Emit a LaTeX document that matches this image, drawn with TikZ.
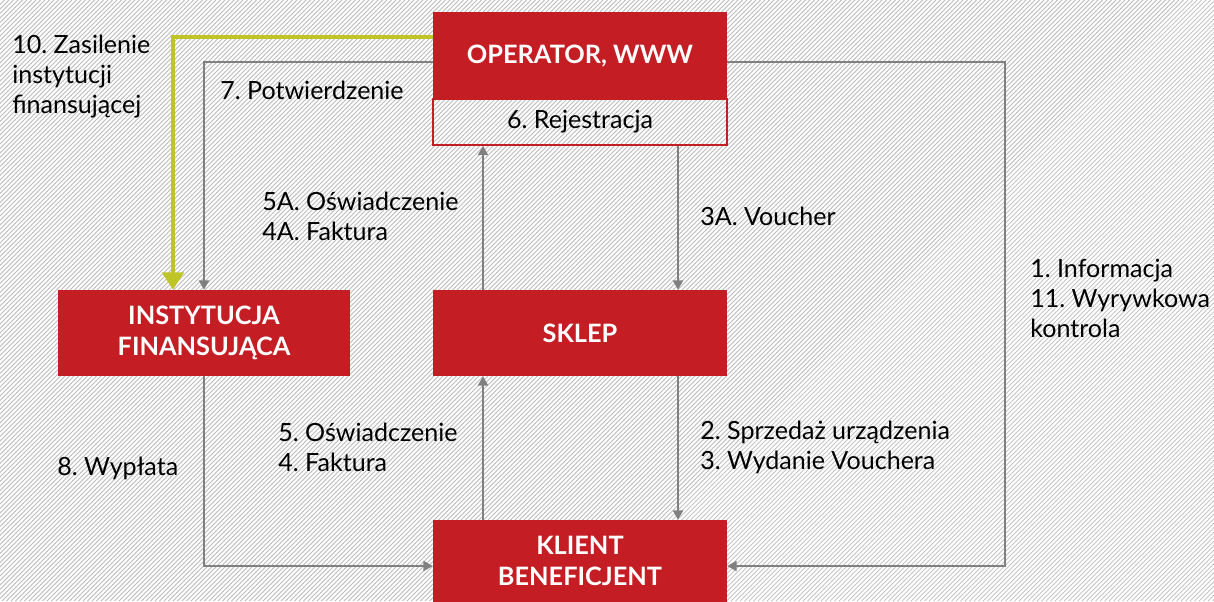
\documentclass[tikz,border=0pt]{standalone}
\usepackage{fontspec}
\setmainfont{Lato}
\frenchspacing
\usetikzlibrary{arrows.meta}
\definecolor{boxred}{HTML}{C41D23}
\definecolor{linegray}{HTML}{808080}
\definecolor{feedgreen}{HTML}{BFC526}
\definecolor{hatch}{HTML}{BDBDBD}
\tikzset{
  redbox/.style={fill=boxred,text=white,font=\bfseries\fontsize{19}{23}\selectfont,
    align=center,minimum width=220.5pt,inner sep=0pt},
  flow/.style={draw=linegray,line width=1.6pt,-{Triangle[length=7pt,width=7.5pt]}},
  feed/.style={draw=feedgreen,line width=3pt,-{Triangle[length=13pt,width=16pt]}},
  lbl/.style={anchor=west,align=left,inner sep=0pt,font=\fontsize{18.8}{22.5}\selectfont}
}
\begin{document}
\begin{tikzpicture}[x=0.75pt,y=-0.75pt]
\useasboundingbox (0,0) rectangle (1214,601);
\fill[white] (0,0) rectangle (1214,601);
\begin{scope}
\clip (0,0) rectangle (1214,601);
\foreach \c in {-610,-605.5,...,1220}
  \draw[hatch,line width=0.55pt] (\c,601) -- ++(601,-601);
\end{scope}

      \node[redbox,minimum height=34.5pt,fill=none,draw=boxred,line width=1.2pt,text=black,font=\fontsize{18.8}{22.5}\selectfont] (rej) at (580,122) {6. Rejestracja};
      \node[redbox,minimum height=66pt] (op) at (580,56) {OPERATOR, WWW};
      \node[redbox,minimum height=64.5pt,minimum width=219pt] (inst) at (204,333) {INSTYTUCJA\\FINANSUJĄCA};
      \node[redbox,minimum height=64.5pt] (sklep) at (580,333) {SKLEP};
      \node[redbox,minimum height=61.5pt] (klient) at (580,561) {KLIENT\\BENEFICJENT};

       \coordinate (zas) at (173,37);
       \coordinate (pot) at (204,62);
       \coordinate (inf) at (1005,566);
       \coordinate (up) at (483,0);
       \coordinate (dn) at (678,0);

\draw[feed] (op.west |- zas) -| (inst.north -| zas);
\draw[flow] (op.west |- pot) -| (inst.north);
\draw[flow] (op.east |- pot) -| (inf) -- (klient.east |- inf);
\draw[flow] (inst.south) |- (klient.west |- inf);
\draw[flow] (sklep.north -| up) -- (rej.south -| up);
\draw[flow] (rej.south -| dn) -- (sklep.north -| dn);
\draw[flow] (klient.north -| up) -- (sklep.south -| up);
\draw[flow] (sklep.south -| dn) -- (klient.north -| dn);

\node[lbl] (zasl) at (12,77) {10. Zasilenie\\instytucji\\finansującej};
\node[lbl] (potl) at (220,90) {7. Potwierdzenie};
\node[lbl] (oswa) at (262,216.5) {5A. Oświadczenie\\4A. Faktura};
\node[lbl] (vouch) at (700,216) {3A. Voucher};
\node[lbl] (infl) at (1030,298) {1. Informacja\\11. Wyrywkowa\\kontrola};
\node[lbl] (osw) at (278,447) {5. Oświadczenie\\4. Faktura};
\node[lbl] (wyp) at (57,468) {8. Wypłata};
\node[lbl] (sprz) at (700,447) {2. Sprzedaż urządzenia\\3. Wydanie Vouchera};
\end{tikzpicture}
\end{document}
